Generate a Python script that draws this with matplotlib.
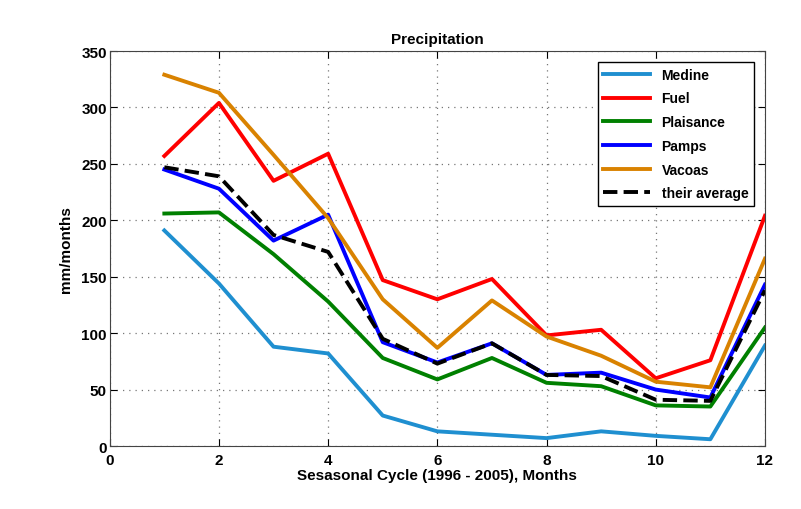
import matplotlib.pyplot as plt

plt.rcParams['font.family'] = ['Liberation Sans', 'DejaVu Sans']
plt.rcParams['font.weight'] = 'bold'

# Dados
meses = [1, 2, 3, 4, 5, 6, 7, 8, 9, 10, 11, 12]
medine = [191, 144, 88, 82, 27, 13, 10, 7, 13, 9, 6, 89]
fuel = [257, 304, 235, 259, 147, 130, 148, 98, 103, 60, 76, 204]
plaisance = [206, 207, 170, 128, 78, 59, 78, 56, 53, 36, 35, 105]
pamps = [245, 228, 182, 205, 92, 74, 91, 63, 65, 50, 43, 143]
vacoas = [329, 313, 258, 202, 130, 87, 129, 97, 80, 57, 52, 166]
media = [247, 239, 187, 172, 95, 73, 91, 63, 62, 41, 40, 138]

series = [
    ('Medine', medine, '#1f8fd0', '-'),
    ('Fuel', fuel, '#ff0000', '-'),
    ('Plaisance', plaisance, '#008000', '-'),
    ('Pamps', pamps, '#0000ff', '-'),
    ('Vacoas', vacoas, '#d98200', '-'),
    ('their average', media, 'black', '--'),
]

fig = plt.figure(figsize=(8.01, 5.10), dpi=100)
ax = fig.add_axes([0.137, 0.1235, 0.818, 0.7745])

for nome, valores, cor, estilo in series:
    ax.plot(meses, valores, color=cor, linestyle=estilo, linewidth=2.8, label=nome)

ax.set_xlim(0, 12)
ax.set_ylim(0, 350)
ax.set_xticks(range(0, 13, 2))
ax.set_yticks(range(0, 351, 50))
ax.grid(True, linestyle=(0, (1, 4)), color='#777777', linewidth=0.9)
ax.tick_params(direction='in', top=True, right=True, labelsize=11, length=5, pad=2)
ax.tick_params(axis='x', pad=5)
for s in ax.spines.values():
    s.set_color('#444444')

ax.set_title('Precipitation', fontsize=11, fontweight='bold')
ax.set_xlabel('Sesasonal Cycle (1996 - 2005), Months', fontsize=11, fontweight='bold', labelpad=1)
ax.set_ylabel('mm/months', fontsize=11, fontweight='bold', labelpad=6)

leg = ax.legend(loc='upper right', fontsize=10, fancybox=False, edgecolor='black',
                framealpha=1, handlelength=3.4, labelspacing=0.7,
                borderaxespad=0.8)
leg.get_frame().set_linewidth(1.0)

fig.savefig('out.png', dpi=100)
